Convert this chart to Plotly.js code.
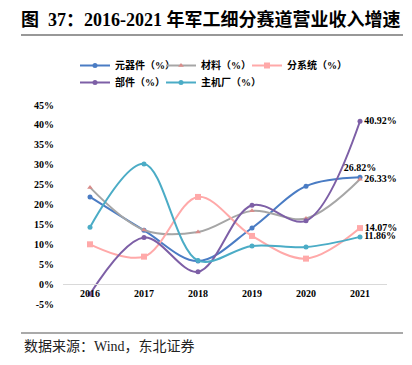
<!DOCTYPE html>
<html>
<head>
<meta charset="utf-8">
<script src="https://cdn.plot.ly/plotly-3.0.1.min.js"></script>
<style>html,body{margin:0;padding:0;background:#fff;}#chart{width:412px;height:365px;}</style>
</head>
<body>
<div id="chart"></div>
<script>
const years = ['2016', '2017', '2018', '2019', '2020', '2021'];
const seriesNames = ['元器件（%）', '材料（%）', '分系统（%）', '部件（%）', '主机厂（%）'];
const components = [21.9, 13.5, 5.8, 14.1, 24.6, 26.82];
const materials = [24.3, 13.6, 13.1, 18.4, 16.5, 26.33];
const subsystems = [10.0, 6.9, 21.9, 12.1, 6.4, 14.07];
const parts = [-2.5, 11.7, 3.1, 19.8, 15.9, 40.92];
const oems = [14.3, 30.2, 5.9, 9.6, 9.3, 11.86];
const yTicks = [-5, 0, 5, 10, 15, 20, 25, 30, 35, 40, 45];

const serif = 'Liberation Serif, Times New Roman, Noto Sans CJK SC, serif';
const cjk = 'Liberation Serif, Noto Sans CJK SC, sans-serif';

const colors = ['#4a7cc4', '#a6a6a6', '#ffa9a9', '#7d5fa6', '#4bacc6'];
const markers = [
  {symbol: 'circle', size: 5, color: '#4a7cc4'},
  {symbol: 'triangle-up', size: 5, color: '#d98c8a'},
  {symbol: 'square', size: 6, color: '#ffa9a9'},
  {symbol: 'circle', size: 5, color: '#7d5fa6'},
  {symbol: 'circle', size: 5, color: '#4bacc6'}
];
const positions = ['top center', 'middle right', 'middle right', 'middle right', 'middle right'];
const legendRows = ['legend', 'legend', 'legend', 'legend2', 'legend2'];
const legendWidths = [41, 41, 62, 41, 62];
const data = [components, materials, subsystems, parts, oems];

const traces = data.map((vals, k) => ({
  type: 'scatter',
  mode: 'lines+markers+text',
  name: seriesNames[k],
  x: years,
  y: vals,
  line: {color: colors[k], width: 2, shape: 'spline', smoothing: 1},
  marker: markers[k],
  text: vals.map((v, i) => i === vals.length - 1 ? v.toFixed(2) + '%' : ''),
  textposition: positions[k],
  textfont: {family: serif, size: 10, color: '#000', weight: 'bold'},
  cliponaxis: false,
  legend: legendRows[k],
  legendwidth: legendWidths[k],
  hoverinfo: 'x+y'
}));

const legendBase = {
  orientation: 'h',
  x: (75 - 63) / 324, xanchor: 'left',
  yanchor: 'top',
  font: {family: cjk, size: 10, color: '#000', weight: 'bold'},
  itemwidth: 30,
  tracegroupgap: 0,
  bgcolor: 'rgba(0,0,0,0)'
};

const layout = {
  width: 412, height: 365,
  margin: {l: 63, r: 25, t: 105, b: 61},
  paper_bgcolor: '#fff', plot_bgcolor: '#fff',
  showlegend: true,
  title: {
    text: '图  37：2016-2021 年军工细分赛道营业收入增速',
    font: {family: cjk, size: 18, color: '#000', weight: 'bold'},
    xref: 'container', yref: 'container',
    x: 21 / 412, xanchor: 'left',
    y: 1 - 20 / 365, yanchor: 'middle'
  },
  legend: Object.assign({}, legendBase, {y: (304 - 51) / 199}),
  legend2: Object.assign({}, legendBase, {y: (304 - 68) / 199}),
  xaxis: {
    type: 'category',
    categoryorder: 'array', categoryarray: years,
    range: [-0.5, 5.5],
    anchor: 'free', position: 0.1,
    showline: true, linecolor: '#d9d9d9', linewidth: 1,
    showgrid: false, zeroline: false, ticks: '',
    tickfont: {family: serif, size: 10, color: '#000', weight: 'bold'},
    fixedrange: true
  },
  yaxis: {
    range: [-5, 45],
    tickvals: yTicks,
    ticktext: yTicks.map(v => v + '%'),
    showgrid: false, zeroline: false, showline: false, ticks: '',
    ticklabelstandoff: 8,
    tickfont: {family: serif, size: 10, color: '#000', weight: 'bold'},
    fixedrange: true
  },
  shapes: [
    {type: 'line', xref: 'paper', yref: 'paper',
     x0: (21 - 63) / 324, x1: (403 - 63) / 324,
     y0: (304 - 35) / 199, y1: (304 - 35) / 199,
     line: {color: '#333', width: 1.2}},
    {type: 'line', xref: 'paper', yref: 'paper',
     x0: (21 - 63) / 324, x1: (403 - 63) / 324,
     y0: (304 - 333) / 199, y1: (304 - 333) / 199,
     line: {color: '#555', width: 1.2}}
  ],
  annotations: [
    {text: '数据来源：Wind，东北证券', xref: 'paper', yref: 'paper',
     x: (22 - 63) / 324, y: (304 - 346) / 199, xanchor: 'left', yanchor: 'middle',
     showarrow: false, font: {family: cjk, size: 14, color: '#222'}}
  ]
};

Plotly.newPlot('chart', traces, layout, {displayModeBar: false, staticPlot: true});
</script>
</body>
</html>
